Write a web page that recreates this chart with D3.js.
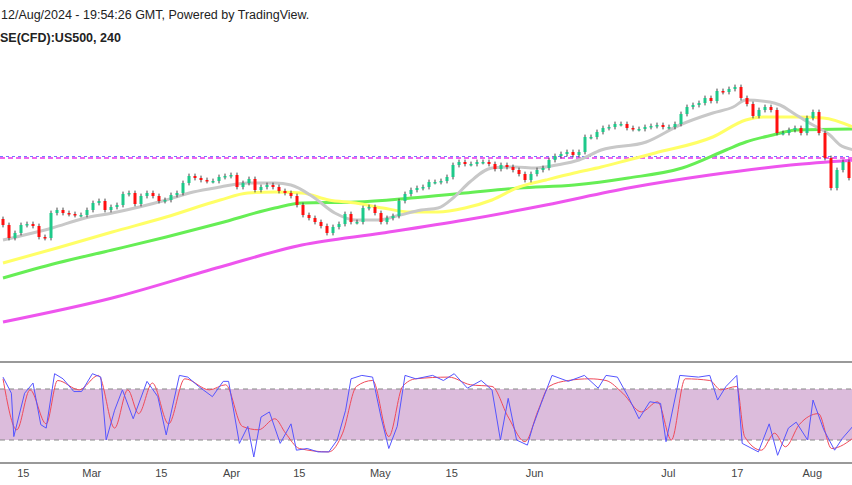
<!DOCTYPE html>
<html>
<head>
<meta charset="utf-8">
<script src="https://cdn.jsdelivr.net/npm/d3@7"></script>
<style>
  body { margin: 0; background: #fff; }
  text { font-family: "Liberation Sans", Arial, sans-serif; }
</style>
</head>
<body>
<svg id="chart" width="852" height="485"></svg>
<script>
// closing prices, one per bar
let closes = [4970,4905,4930,4970,4975,4965,4910,4905,5030,5045,5030,5025,5020,5020,5045,5080,5090,5045,5060,5070,
  5125,5130,5075,5115,5130,5115,5090,5095,5120,5130,5180,5215,5205,5195,5190,5190,5210,5215,5220,5160,
  5180,5200,5145,5160,5170,5160,5140,5130,5115,5070,5020,5005,4985,4965,4930,4960,4975,5025,4985,4985,
  5055,5060,5030,4985,5005,5015,5090,5125,5145,5155,5160,5185,5185,5190,5210,5270,5285,5275,5275,5285,
  5285,5275,5250,5270,5260,5245,5225,5195,5225,5245,5255,5295,5315,5325,5335,5320,5335,5410,5410,5435,
  5455,5460,5475,5475,5455,5450,5450,5460,5465,5470,5460,5460,5475,5525,5560,5570,5580,5605,5590,5640,
  5635,5650,5660,5605,5575,5515,5545,5560,5545,5430,5430,5445,5455,5430,5505,5535,5430,5305,5155,5245,
  5285,5205];
let firstOpen = 5000;

// moving averages as [bar, price]
let maGrey = [[0,4895],[8.2,4955],[13.7,5005],[18.2,5030],[22.7,5060],[27.2,5095],[31.7,5135],[36.2,5160],[40.8,5180],[45.3,5180],[48,5170],[51.7,5110],[55.3,5030],[58.8,4995],[62.5,4995],[66.2,5020],[69.7,5045],[72.5,5055],[75.2,5110],[77.8,5185],[81.5,5255],[85.2,5260],[88.8,5255],[92.3,5270],[96,5295],[99.7,5345],[107.2,5385],[112.8,5470],[118.3,5530],[121.7,5560],[123.8,5595],[127.8,5585],[129.5,5570],[132.2,5520],[135,5470],[137.8,5420],[139.5,5370],[142,5345]];
let maYellow = [[0,4780],[9,4855],[18.2,4935],[27.2,5010],[36.2,5095],[40.8,5130],[45.3,5135],[49.8,5130],[54.3,5095],[58.8,5080],[63.3,5055],[68,5035],[72.5,5035],[77,5055],[81.5,5095],[86,5160],[90.5,5195],[95.2,5230],[99.7,5260],[104.2,5295],[108.7,5330],[118.3,5410],[123.8,5495],[126.7,5510],[132.2,5510],[136.7,5505],[142,5455]];
let maGreen = [[0,4705],[9,4780],[18.2,4845],[27.2,4910],[36.2,4980],[45.3,5055],[49.8,5080],[58.8,5085],[68,5105],[77,5130],[86,5155],[95.2,5170],[104.2,5205],[113.2,5255],[120.5,5345],[123.8,5385],[128.3,5420],[132.2,5445],[142,5450]];
let maMagenta = [[0,4485],[18.2,4605],[36.2,4760],[49.8,4870],[63.3,4930],[77,4995],[90.5,5070],[104.2,5155],[117.8,5220],[131.3,5270],[142,5295]];
let levelPrice = 5305;

// stochastic %K and %D as [bar, value]
let stochK = [[0,94],[1.4,75],[1.8,24],[3.6,75],[5,87],[6.3,38],[7.2,34],[8.6,98],[10,92],[11.8,77],[13.1,77],[14.9,98],[16.3,94],[17.2,20],[18.6,55],[19.9,79],[21.7,45],[24,89],[25.8,71],[27.2,26],[29.4,96],[30.8,94],[32.6,83],[34.9,71],[36.7,89],[37.6,89],[39.4,16],[40.8,36],[41.8,0],[43,47],[44.4,53],[46.2,16],[48,39],[48.9,8],[50.7,10],[52.5,6],[54.3,6],[55.7,20],[57.1,55],[58,92],[59.8,96],[61.6,94],[63,47],[64.3,10],[65.7,36],[67,96],[68.8,92],[71.6,96],[73.4,90],[75.2,98],[77.4,81],[79.7,90],[81.5,79],[82.9,20],[84.2,69],[85.6,20],[87.4,14],[88.3,36],[89.7,63],[91.5,96],[94.2,89],[96.9,96],[99.2,81],[100.5,96],[102.4,94],[104.2,71],[106,45],[107.8,65],[109.6,63],[110.5,18],[112.8,96],[115.9,94],[117.8,96],[119.1,67],[120.5,83],[122.3,96],[123.2,16],[125.9,6],[127.7,39],[129.1,2],[130.9,34],[132.2,41],[134.1,20],[135,67],[136.8,32],[138.6,8],[139.9,22],[142,39]];
let stochD = [[0,92],[2.3,32],[4.5,79],[7.2,39],[9.1,90],[12.7,79],[15.9,96],[18.6,34],[20.8,79],[22.6,51],[24.9,87],[27.6,39],[30.3,92],[34.4,79],[37.1,85],[39.9,36],[42.6,32],[45.3,45],[47.1,28],[49.4,10],[54.3,6],[56.6,28],[58.9,83],[61.6,90],[64.3,24],[66.6,83],[68.8,92],[74.3,94],[77.9,85],[81.5,83],[84.2,47],[87,18],[89.2,55],[91,83],[94.2,90],[97.8,92],[100.5,90],[103.3,75],[106.4,53],[109.1,65],[111.4,20],[113.7,92],[117.8,90],[119.6,79],[122.3,83],[123.6,24],[126.4,8],[128.6,28],[130.4,12],[132.7,38],[135.9,51],[138.1,10],[142,24]];

// date ticks
let tickLabels = ["15","Mar","15","Apr","15","May","15","Jun","Jul","17","Aug"];
let tickBars = [3.3,14.7,26.3,38,49.3,62.8,74.7,88.5,110.8,122.3,134.8];

let svg = d3.select("#chart");
let width = 852;

let x = d3.scaleLinear().domain([0, 142]).range([3, 855]);
let y = d3.scaleLinear().domain([4320, 6095]).range([355, 0]);
let ys = d3.scaleLinear().domain([0, 100]).range([457, 372]);

// header
svg.append("text").attr("x", 1).attr("y", 19).style("font-size", "12.5px").attr("fill", "#222")
    .text("12/Aug/2024 - 19:54:26 GMT, Powered by TradingView.");
svg.append("text").attr("x", 0).attr("y", 42).style("font-size", "12.5px").style("font-weight", "bold").attr("fill", "#222")
    .text("SE(CFD):US500, 240");

let main = svg.append("g");
let lineGen = d3.line().x(d => x(d[0])).y(d => y(d[1])).curve(d3.curveMonotoneX);

// level line
main.append("line").attr("x1", 0).attr("x2", width).attr("y1", y(levelPrice)).attr("y2", y(levelPrice))
    .attr("stroke", "#ee66ee").attr("stroke-width", 2).attr("stroke-dasharray", "5,3");
main.append("line").attr("x1", 0).attr("x2", width).attr("y1", y(levelPrice) - 1.5).attr("y2", y(levelPrice) - 1.5)
    .attr("stroke", "#7777ff").attr("stroke-width", 1).attr("stroke-dasharray", "3,3");

// moving averages
[[maMagenta, "#ee55ee"], [maGreen, "#66ee55"], [maYellow, "#ffff66"], [maGrey, "#c8c8c8"]].forEach(function (m) {
    main.append("path").datum(m[0]).attr("d", lineGen).attr("fill", "none")
        .attr("stroke", m[1]).attr("stroke-width", 3);
});

// candles
let candles = closes.map(function (c, i) {
    let o = i === 0 ? firstOpen : closes[i - 1];
    return {i: i, o: o, c: c};
});
let cg = main.selectAll(".candle").data(candles).enter().append("g");
cg.append("line")
    .attr("x1", d => x(d.i)).attr("x2", d => x(d.i))
    .attr("y1", d => y(Math.max(d.o, d.c) + 12)).attr("y2", d => y(Math.min(d.o, d.c) - 12))
    .attr("stroke", "#444").attr("stroke-width", 1);
cg.append("rect")
    .attr("x", d => x(d.i) - 1.5).attr("width", 3)
    .attr("y", d => y(Math.max(d.o, d.c)))
    .attr("height", d => Math.max(1.5, Math.abs(y(d.o) - y(d.c))))
    .attr("fill", d => d.c >= d.o ? "#1ec98a" : "#ff1010");

// stochastic pane
svg.append("line").attr("x1", 0).attr("x2", width).attr("y1", 362).attr("y2", 362).attr("stroke", "#777").attr("stroke-width", 1.5);
svg.append("rect").attr("x", 0).attr("width", width).attr("y", ys(80)).attr("height", ys(20) - ys(80)).attr("fill", "#dcbcdc");
[80, 20].forEach(function (v) {
    svg.append("line").attr("x1", 0).attr("x2", width).attr("y1", ys(v)).attr("y2", ys(v))
        .attr("stroke", "#888").attr("stroke-width", 1.2).attr("stroke-dasharray", "5,4");
});
let sLine = d3.line().x(d => x(d[0])).y(d => ys(d[1]));
svg.append("path").datum(stochD).attr("d", sLine.curve(d3.curveMonotoneX)).attr("fill", "none").attr("stroke", "#f04a5a").attr("stroke-width", 1);
svg.append("path").datum(stochK).attr("d", d3.line().x(d => x(d[0])).y(d => ys(d[1]))).attr("fill", "none").attr("stroke", "#5555ff").attr("stroke-width", 1);
svg.append("line").attr("x1", 0).attr("x2", width).attr("y1", 463).attr("y2", 463).attr("stroke", "#777").attr("stroke-width", 1.5);

// date axis
let axis = d3.axisBottom(x).tickValues(tickBars).tickSize(0).tickFormat((d, i) => tickLabels[i]);
let ag = svg.append("g").attr("transform", "translate(0,466)").call(axis);
ag.select(".domain").remove();
ag.selectAll("text").style("font-size", "11px").attr("fill", "#444").style("font-family", "Liberation Sans, Arial, sans-serif");
</script>
</body>
</html>
